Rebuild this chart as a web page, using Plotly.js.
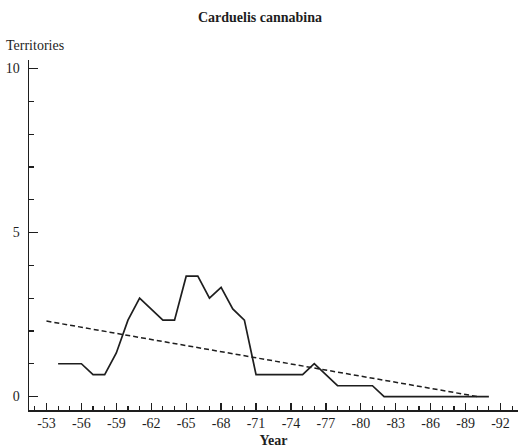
<!DOCTYPE html>
<html>
<head>
<meta charset="utf-8">
<script src="https://cdn.plot.ly/plotly-3.0.1.min.js"></script>
<style>
  html, body { margin: 0; padding: 0; background: #fff; }
  #chart { width: 519px; height: 448px; }
</style>
</head>
<body>
<div id="chart"></div>
<script>
// Linnet (Carduelis cannabina) breeding territories per year
const years = [1954, 1955, 1956, 1957, 1958, 1959, 1960, 1961, 1962, 1963,
               1964, 1965, 1966, 1967, 1968, 1969, 1970, 1971, 1972, 1973,
               1974, 1975, 1976, 1977, 1978, 1979, 1980, 1981, 1982, 1983,
               1984, 1985, 1986, 1987, 1988, 1989, 1990, 1991];
const territories = [1, 1, 1, 0.67, 0.67, 1.33, 2.33, 3, 2.67, 2.33,
                     2.33, 3.67, 3.67, 3, 3.33, 2.67, 2.33, 0.67, 0.67, 0.67,
                     0.67, 0.67, 1, 0.67, 0.33, 0.33, 0.33, 0.33, 0, 0,
                     0, 0, 0, 0, 0, 0, 0, 0];

// Linear trend endpoints
const trendYears = [1953, 1990];
const trendValues = [2.3, 0];

// Axis ticks
const xTickVals = [1953, 1956, 1959, 1962, 1965, 1968, 1971, 1974, 1977, 1980, 1983, 1986, 1989, 1992];
const xTickText = ["-53", "-56", "-59", "-62", "-65", "-68", "-71", "-74", "-77", "-80", "-83", "-86", "-89", "-92"];
const yTickVals = [0, 5, 10];
const yTickText = ["0", "5", "10"];

const ink = "#1e1e1e";
const serif = "Liberation Serif";

const traces = [
  {
    x: years, y: territories, type: "scatter", mode: "lines",
    line: { color: ink, width: 1.7 }, hoverinfo: "skip"
  },
  {
    x: trendYears, y: trendValues, type: "scatter", mode: "lines",
    line: { color: ink, width: 1.5, dash: "5px,3px" }, hoverinfo: "skip"
  }
];

const layout = {
  width: 519, height: 448,
  margin: { l: 29, r: 1, t: 60, b: 38 },
  paper_bgcolor: "#fff", plot_bgcolor: "#fff",
  showlegend: false,
  font: { family: serif, size: 14, color: ink },
  title: {
    text: "<b>Carduelis cannabina</b>",
    font: { family: serif, size: 14, color: ink },
    x: 260 / 519, xref: "container", xanchor: "center",
    y: 1 - 17 / 448, yref: "container", yanchor: "middle"
  },
  xaxis: {
    range: [1951.5, 1993.5],
    tickmode: "array", tickvals: xTickVals, ticktext: xTickText,
    ticks: "inside", ticklen: 7, tickwidth: 1.3, tickcolor: ink,
    minor: { dtick: 1, tick0: 1953, ticks: "inside", ticklen: 4, tickwidth: 1.2, tickcolor: ink, showgrid: false },
    showline: true, linecolor: ink, linewidth: 1.5,
    showgrid: false, zeroline: false,
    tickfont: { family: serif, size: 14, color: ink },
    title: { text: "<b>Year</b>", font: { family: serif, size: 14, color: ink }, standoff: 6 }
  },
  yaxis: {
    range: [-0.41, 10.26],
    tickmode: "array", tickvals: yTickVals, ticktext: yTickText,
    ticks: "inside", ticklen: 9, tickwidth: 1.3, tickcolor: ink,
    ticklabelstandoff: 5,
    minor: { dtick: 1, tick0: 0, ticks: "inside", ticklen: 5, tickwidth: 1.2, tickcolor: ink, showgrid: false },
    showline: true, linecolor: ink, linewidth: 1.5,
    showgrid: false, zeroline: false,
    tickfont: { family: serif, size: 14, color: ink }
  },
  annotations: [
    {
      text: "Territories", xref: "paper", yref: "paper",
      x: -29 / 489 + 4 / 489, y: 1 + 14 / 350,
      xanchor: "left", yanchor: "middle", showarrow: false,
      font: { family: serif, size: 14, color: ink }
    }
  ]
};

Plotly.newPlot("chart", traces, layout, { staticPlot: true, displayModeBar: false });
</script>
</body>
</html>
